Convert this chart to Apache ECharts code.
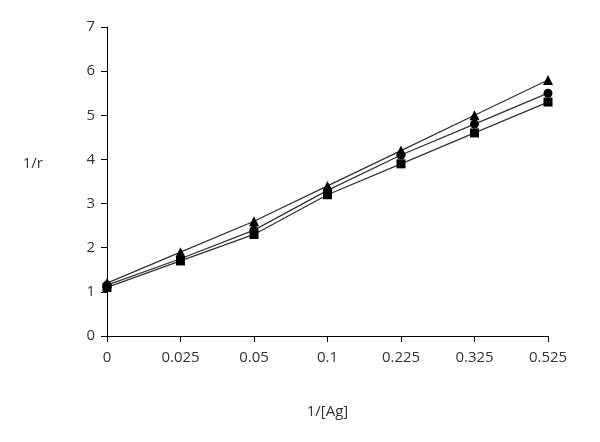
<!DOCTYPE html>
<html>
<head>
<meta charset="utf-8">
<script src="https://cdn.jsdelivr.net/npm/echarts@6/dist/echarts.min.js"></script>
<style>
  html, body { margin: 0; padding: 0; background: #fff; }
  #chart { width: 600px; height: 442px; }
</style>
</head>
<body>
<div id="chart"></div>
<script>
  // x categories (1/[Ag])
  var categories = ['0', '0.025', '0.05', '0.1', '0.225', '0.325', '0.525']
  // 1/r for the three series
  var triangleData = [1.2, 1.9, 2.6, 3.4, 4.2, 5.0, 5.8]
  var circleData = [1.15, 1.75, 2.4, 3.3, 4.1, 4.8, 5.5]
  var squareData = [1.1, 1.7, 2.3, 3.2, 3.9, 4.6, 5.3]

  var chart = echarts.init(document.getElementById('chart'))
  var labelFont = { color: '#333', fontSize: 15, fontFamily: 'Open Sans' }

  function lineSeries(name, data, symbol, size) {
    return {
      name: name,
      type: 'line',
      data: data,
      symbol: symbol,
      symbolSize: size,
      itemStyle: { color: '#000' },
      lineStyle: { color: '#333', width: 1.3 },
      animation: false
    }
  }

  chart.setOption({
    backgroundColor: '#fff',
    grid: { left: 107, right: 52, top: 27, bottom: 106 },
    xAxis: {
      type: 'category',
      data: categories,
      boundaryGap: false,
      name: '1/[Ag]',
      nameLocation: 'middle',
      nameGap: 68,
      nameTextStyle: labelFont,
      axisLine: { lineStyle: { color: '#000', width: 1 } },
      axisTick: { show: true, alignWithLabel: true, length: 6, lineStyle: { color: '#000' } },
      axisLabel: Object.assign({ margin: 14 }, labelFont),
      splitLine: { show: false }
    },
    yAxis: {
      type: 'value',
      min: 0,
      max: 7,
      interval: 1,
      name: '1/r',
      nameLocation: 'middle',
      nameRotate: 0,
      nameGap: 64,
      nameTextStyle: Object.assign({ verticalAlign: 'bottom', lineHeight: 36 }, labelFont),
      axisLine: { show: true, lineStyle: { color: '#000', width: 1 } },
      axisTick: { show: true, length: 6, lineStyle: { color: '#000' } },
      axisLabel: Object.assign({ margin: 12 }, labelFont),
      splitLine: { show: false }
    },
    series: [
      lineSeries('triangle', triangleData, 'triangle', 10),
      lineSeries('circle', circleData, 'circle', 9),
      lineSeries('square', squareData, 'rect', 9)
    ]
  })
</script>
</body>
</html>
